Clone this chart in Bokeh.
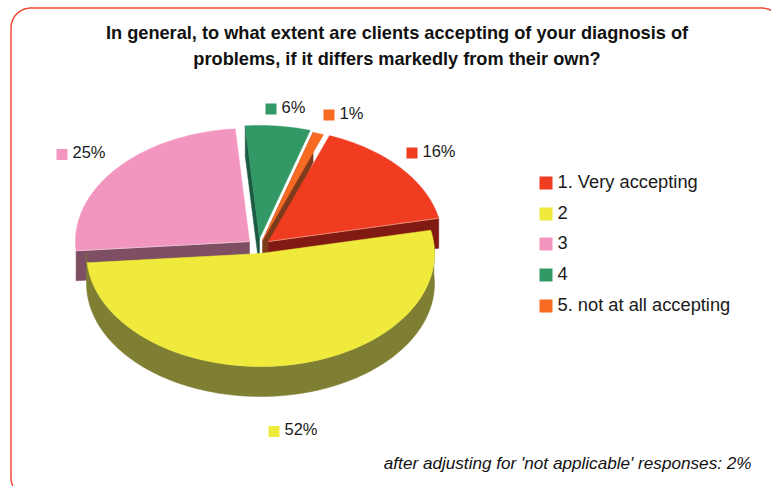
import math

from bokeh.core.properties import value
from bokeh.embed import file_html
from bokeh.models import Range1d
from bokeh.plotting import figure
from bokeh.resources import INLINE

# Survey answers, in clockwise order from the top of the pie
categories = ["1. Very accepting", "2", "3", "4", "5. not at all accepting"]
percentages = [16, 52, 25, 6, 1]

top_colors = ["#f03c20", "#efea3b", "#f396bf", "#329966", "#f66a22"]
wall_colors = ["#801a12", "#7f7f33", "#7e4e63", "#1c5a42", "#7e3b1c"]
edge_colors = ["#e58a72", None, "#e8bfd2", None, None]

title_lines = [
    "In general, to what extent are clients accepting of your diagnosis of",
    "problems, if it differs markedly from their own?",
]
footnote = "after adjusting for 'not applicable' responses: 2%"

# Layout, in page pixels
WIDTH, HEIGHT = 771, 486
RX, RY, DEPTH = 174, 113, 30
START_ANGLE = 69.5
apexes = [(268, 241), (260, 253), (249, 241), (259, 238), (262, 240)]
label_boxes = [(406, 152.5), (268, 431), (56, 154), (265, 108.5), (323, 114.5)]
legend_x, legend_ys = 539, [182.5, 213.5, 243.5, 274.5, 305.5]
FONT = "Liberation Sans"

p = figure(
    width=WIDTH, height=HEIGHT,
    x_range=Range1d(0, WIDTH), y_range=Range1d(HEIGHT, 0),
    output_backend="svg", toolbar_location=None,
    min_border=0, outline_line_color=None,
    background_fill_color="white", border_fill_color="white",
)
p.axis.visible = False
p.grid.visible = False


def rim(cx, cy, a0, a1, steps=90):
    """Points on the tilted pie's rim between two angles in degrees."""
    pts = []
    for i in range(steps + 1):
        t = math.radians(a0 + (a1 - a0) * i / steps)
        pts.append((cx + RX * math.cos(t), cy - RY * math.sin(t)))
    return pts


def lowered(points):
    """The same outline at the bottom of the pie, in reverse order."""
    return [(x, y + DEPTH) for x, y in reversed(points)]


def draw(points, color):
    p.patch([q[0] for q in points], [q[1] for q in points],
            fill_color=color, line_color=color, line_width=0.5)


# Frame with rounded corners; its right and bottom edges run off the page
R, L, T, RGT, BOT = 20, 10.5, 7.5, 781, 497
frame_x, frame_y = [], []
for cx, cy, a0 in [(L + R, T + R, 180), (RGT - R, T + R, 90),
                   (RGT - R, BOT - R, 0), (L + R, BOT - R, 270)]:
    for i in range(25):
        t = math.radians(a0 - 90 * i / 24)
        frame_x.append(cx + R * math.cos(t))
        frame_y.append(cy - R * math.sin(t))
frame_x.append(frame_x[0])
frame_y.append(frame_y[0])
p.line(frame_x, frame_y, line_color="#f04a36", line_width=1.5)

# Sweep of each slice
spans = []
angle = START_ANGLE
for v in percentages:
    spans.append((angle, angle - v * 3.6))
    angle -= v * 3.6

# Back-to-front painting: pink, green, orange, red, then the yellow slice
for i in [2, 3, 4, 0, 1]:
    a0, a1 = spans[i]
    cx, cy = apexes[i]
    top = rim(cx, cy, a0, a1)
    if i == 1:
        # only the front of the rim shows its wall
        upper = rim(cx, cy, 5, -180)
        wall = upper + lowered(upper)
        edge = None
    elif i == 0:
        # cut face ending at the right tip of the slice
        edge = top[-1]
    else:
        # cut face starting at the slice's first radius
        edge = top[0]
    if edge is not None:
        wall = [edge, (cx, cy), (cx, cy + DEPTH), (edge[0], edge[1] + DEPTH)]
    draw(wall, wall_colors[i])
    draw([(cx, cy)] + top, top_colors[i])
    if edge_colors[i]:
        p.line([cx, edge[0]], [cy, edge[1]], line_color=edge_colors[i], line_width=1)

# Data labels beside each slice
for i, v in enumerate(percentages):
    bx, by = label_boxes[i]
    p.rect([bx + 5.5], [by], width=11, height=11, fill_color=top_colors[i], line_color=None)
    p.text([bx + 16], [by - 2.5], text=[f"{v}%"], text_font=value(FONT), text_font_size="16.5px",
           text_color="#1a1a1a", text_baseline="middle", text_align="left")

# Legend
for i, name in enumerate(categories):
    p.rect([legend_x + 6.5], [legend_ys[i]], width=13, height=13, fill_color=top_colors[i], line_color=None)
    p.text([legend_x + 18], [legend_ys[i] - 2], text=[name], text_font=value(FONT), text_font_size="18.3px",
           text_color="#1a1a1a", text_baseline="middle", text_align="left")

# Title and footnote
for y, line in zip([32, 58], title_lines):
    p.text([396.5], [y], text=[line], text_font=value(FONT), text_font_size="18.2px", text_font_style="bold",
           text_color="#111111", text_baseline="middle", text_align="center")
p.text([751], [462], text=[footnote], text_font=value(FONT), text_font_size="17.15px", text_font_style="italic",
       text_color="#111111", text_baseline="middle", text_align="right")

open("out.html", "w").write(file_html(p, INLINE))
